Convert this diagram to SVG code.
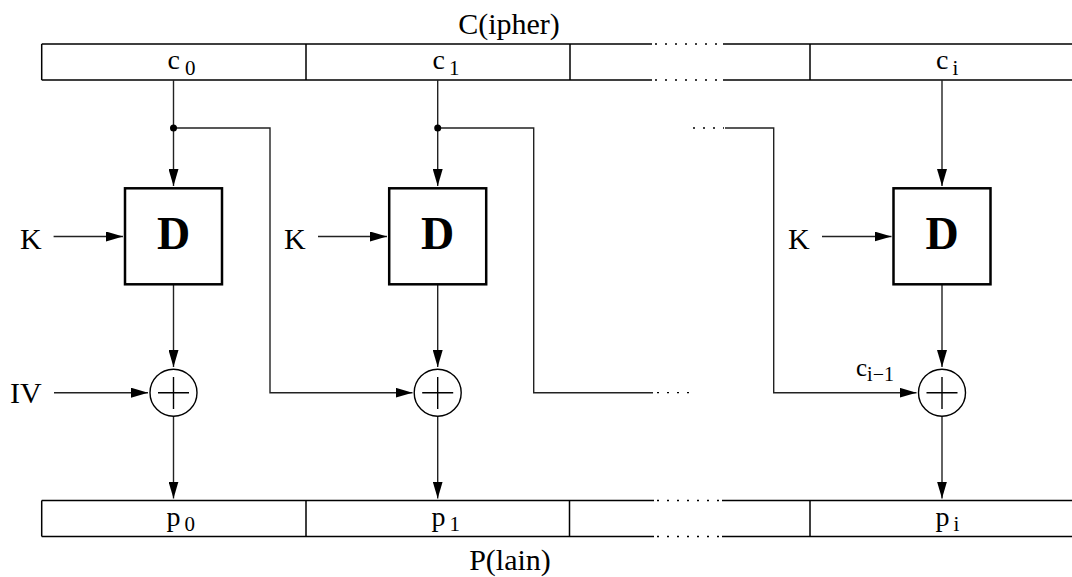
<svg xmlns="http://www.w3.org/2000/svg" width="1072" height="577" viewBox="0 0 1072 577">
<style>
text{font-family:"Liberation Serif","Times New Roman",serif;fill:#000}
.lbl{font-size:28px}
.sub{font-size:21px}
.io{font-size:30px}
.title{font-size:30px;text-anchor:middle}
.big{font-size:46px;font-weight:bold;text-anchor:middle}
.bar{fill:none;stroke:#000;stroke-width:1.5}
.dot{fill:none;stroke:#000;stroke-width:1.3;stroke-dasharray:2 8}
.box{fill:#fff;stroke:#000;stroke-width:2.5}
.xor{fill:#fff;stroke:#000;stroke-width:1.4}
.wire{fill:none;stroke:#222;stroke-width:1.4}
.arr{fill:none;stroke:#222;stroke-width:1.4;marker-end:url(#ah)}
</style>
<defs>
<marker id="ah" markerUnits="userSpaceOnUse" markerWidth="18" markerHeight="10" refX="17" refY="5" orient="auto">
<path d="M0,0 L17,5 L0,10 z" fill="#000"/>
</marker>
</defs>

<g id="cipher">
<text class="title" x="509" y="33.5">C(ipher)</text>
<path class="bar" d="M41.7,44 H652 M723,44 H1072 M41.7,80 H652 M723,80 H1072 M41.7,44 V80 M306,44 V80 M570,44 V80 M810,44 V80"/>
<path class="dot" d="M655,44 H722 M655,80 H722"/>
<text class="lbl" x="167.5" y="69">c<tspan class="sub" dx="5" dy="6">0</tspan></text>
<text class="lbl" x="432.5" y="69">c<tspan class="sub" dx="4" dy="6">1</tspan></text>
<text class="lbl" x="936" y="69">c<tspan class="sub" dx="4" dy="6">i</tspan></text>
</g>

<g id="plain">
<text class="title" x="510" y="570">P(lain)</text>
<path class="bar" d="M41.7,500.5 H654 M722,500.5 H1072 M41.7,536.5 H654 M722,536.5 H1072 M41.7,500.5 V536.5 M306,500.5 V536.5 M569.5,500.5 V536.5 M810,500.5 V536.5"/>
<path class="dot" d="M657,500.5 H720 M657,536.5 H720"/>
<text class="lbl" x="166.5" y="526">p<tspan class="sub" dx="4" dy="5">0</tspan></text>
<text class="lbl" x="431.5" y="526">p<tspan class="sub" dx="4" dy="5">1</tspan></text>
<text class="lbl" x="935.5" y="526">p<tspan class="sub" dx="4" dy="5">i</tspan></text>
</g>

<g id="connectors">
<path class="arr" d="M173.5,80 V186"/>
<path class="arr" d="M437.7,80 V186"/>
<path class="arr" d="M942,80 V186"/>
<path class="arr" d="M173.5,284.3 V367"/>
<path class="arr" d="M437.7,284.3 V367"/>
<path class="arr" d="M942,284.3 V367"/>
<path class="arr" d="M173.5,416.3 V498.5"/>
<path class="arr" d="M437.7,416.3 V498.5"/>
<path class="arr" d="M942,416.3 V498.5"/>
<path class="arr" d="M53.6,236.5 H123"/>
<path class="arr" d="M318,236.5 H387"/>
<path class="arr" d="M822,236.5 H891.5"/>
<path class="arr" d="M54,392.7 H148"/>
<path class="arr" d="M173.5,128 H270 V392.7 H412.5"/>
<path class="wire" d="M437.7,128 H533.7 V392.7 H653"/>
<path class="dot" d="M657,392.7 H692"/>
<path class="dot" d="M693,128 H724"/>
<path class="arr" d="M725,128 H773.7 V392.7 H916.5"/>
<circle cx="173.5" cy="128" r="3.5" fill="#000"/>
<circle cx="437.7" cy="128" r="3.5" fill="#000"/>
<text x="856" y="376" style="font-size:25px">c<tspan dy="5" style="font-size:20px">i−1</tspan></text>
</g>

<g id="inputs">
<text class="io" x="20" y="249">K</text>
<text class="io" x="284" y="249">K</text>
<text class="io" x="788" y="249">K</text>
<text class="io" x="10" y="403">IV</text>
</g>

<g id="D1"><rect class="box" x="125" y="188.3" width="97" height="96"/><text class="big" x="173.5" y="249">D</text></g>
<g id="D2"><rect class="box" x="389.2" y="188.3" width="97" height="96"/><text class="big" x="437.7" y="249">D</text></g>
<g id="D3"><rect class="box" x="893.5" y="188.3" width="97" height="96"/><text class="big" x="942" y="249">D</text></g>

<g id="X1"><circle class="xor" cx="173.5" cy="392.7" r="23.5"/><path class="xor" d="M158,392.7 H189 M173.5,377 V409"/></g>
<g id="X2"><circle class="xor" cx="437.7" cy="392.7" r="23.5"/><path class="xor" d="M422.2,392.7 H453.2 M437.7,377 V409"/></g>
<g id="X3"><circle class="xor" cx="942" cy="392.7" r="23.5"/><path class="xor" d="M926.5,392.7 H957.5 M942,377 V409"/></g>
</svg>
